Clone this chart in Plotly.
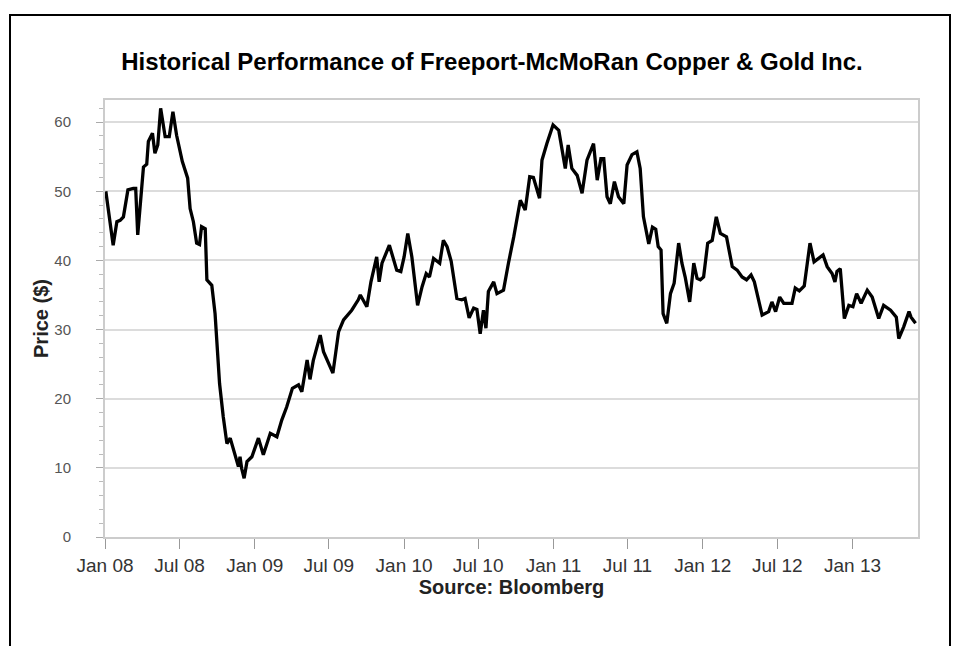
import plotly.graph_objects as go

dates = [
    "2008-01-03", "2008-01-21", "2008-01-30", "2008-02-07", "2008-02-15", "2008-02-26",
    "2008-03-10", "2008-03-16", "2008-03-21", "2008-04-04", "2008-04-12", "2008-04-16",
    "2008-04-26", "2008-05-02", "2008-05-09", "2008-05-16", "2008-05-27", "2008-06-06",
    "2008-06-15", "2008-06-24", "2008-07-08", "2008-07-21", "2008-07-27", "2008-08-04",
    "2008-08-12", "2008-08-19", "2008-08-24", "2008-09-02", "2008-09-06", "2008-09-18",
    "2008-09-26", "2008-09-30", "2008-10-07", "2008-10-16", "2008-10-25", "2008-11-02",
    "2008-11-08", "2008-11-16", "2008-11-22", "2008-11-26", "2008-11-30", "2008-12-06",
    "2008-12-13", "2008-12-25", "2009-01-10", "2009-01-22", "2009-02-08", "2009-02-24",
    "2009-03-08", "2009-03-20", "2009-04-03", "2009-04-18", "2009-04-26", "2009-05-09",
    "2009-05-16", "2009-05-24", "2009-06-02", "2009-06-10", "2009-06-18", "2009-06-30",
    "2009-07-11", "2009-07-25", "2009-08-06", "2009-08-26", "2009-09-11", "2009-09-16",
    "2009-10-02", "2009-10-12", "2009-10-26", "2009-11-01", "2009-11-08", "2009-11-26",
    "2009-12-14", "2009-12-24", "2010-01-01", "2010-01-10", "2010-01-20", "2010-02-03",
    "2010-02-14", "2010-02-24", "2010-03-04", "2010-03-14", "2010-03-29", "2010-04-07",
    "2010-04-16", "2010-04-26", "2010-05-10", "2010-05-22", "2010-05-30", "2010-06-09",
    "2010-06-20", "2010-06-28", "2010-07-06", "2010-07-14", "2010-07-20", "2010-07-26",
    "2010-08-08", "2010-08-16", "2010-09-01", "2010-09-13", "2010-09-26", "2010-10-12",
    "2010-10-24", "2010-11-04", "2010-11-13", "2010-11-28", "2010-12-04", "2010-12-16",
    "2010-12-31", "2011-01-14", "2011-01-22", "2011-01-30", "2011-02-06", "2011-02-15",
    "2011-02-28", "2011-03-12", "2011-03-24", "2011-04-09", "2011-04-18", "2011-04-27",
    "2011-05-04", "2011-05-12", "2011-05-20", "2011-05-30", "2011-06-09", "2011-06-22",
    "2011-06-30", "2011-07-12", "2011-07-24", "2011-08-01", "2011-08-09", "2011-08-22",
    "2011-08-31", "2011-09-08", "2011-09-14", "2011-09-21", "2011-09-26", "2011-10-05",
    "2011-10-14", "2011-10-23", "2011-11-03", "2011-11-11", "2011-11-19", "2011-11-30",
    "2011-12-10", "2011-12-18", "2011-12-26", "2012-01-03", "2012-01-13", "2012-01-24",
    "2012-02-03", "2012-02-13", "2012-02-28", "2012-03-13", "2012-03-25", "2012-04-06",
    "2012-04-17", "2012-04-28", "2012-05-06", "2012-05-17", "2012-05-25", "2012-06-10",
    "2012-06-18", "2012-06-27", "2012-07-07", "2012-07-17", "2012-08-06", "2012-08-14",
    "2012-08-24", "2012-09-05", "2012-09-19", "2012-09-29", "2012-10-10", "2012-10-21",
    "2012-10-31", "2012-11-12", "2012-11-19", "2012-11-24", "2012-12-02", "2012-12-12",
    "2012-12-23", "2013-01-02", "2013-01-11", "2013-01-22", "2013-02-06", "2013-02-18",
    "2013-03-06", "2013-03-18", "2013-04-04", "2013-04-18", "2013-04-24", "2013-05-06",
    "2013-05-19", "2013-05-24", "2013-06-04",
]

prices = [
    50.0, 42.2, 45.6, 45.8, 46.3, 50.2,
    50.4, 50.4, 43.7, 53.5, 53.9, 57.2,
    58.4, 55.5, 56.7, 62.0, 57.9, 57.9,
    61.5, 58.1, 54.3, 51.9, 47.5, 45.6,
    42.5, 42.3, 44.9, 44.6, 37.2, 36.4,
    32.3, 28.5, 22.2, 17.4, 13.5, 14.3,
    13.1, 11.6, 10.2, 11.6, 9.9, 8.5,
    10.9, 11.6, 14.3, 11.9, 15.0, 14.5,
    16.9, 18.8, 21.5, 22.0, 21.0, 25.6,
    22.8, 25.5, 27.5, 29.2, 26.8, 25.1,
    23.7, 29.7, 31.4, 32.8, 34.3, 35.0,
    33.3, 36.9, 40.5, 36.9, 39.6, 42.2,
    38.6, 38.4, 40.5, 43.9, 40.5, 33.5,
    36.2, 38.1, 37.6, 40.3, 39.6, 42.9,
    42.0, 39.9, 34.5, 34.3, 34.5, 31.7,
    33.1, 32.9, 29.4, 32.8, 30.2, 35.5,
    36.9, 35.2, 35.7, 39.6, 43.4, 48.7,
    47.3, 52.1, 52.0, 49.0, 54.5, 56.9,
    59.6, 58.8, 55.9, 53.3, 56.7, 53.3,
    52.3, 49.7, 54.5, 56.9, 51.6, 54.7,
    54.7, 49.2, 48.2, 51.4, 49.2, 48.2,
    53.8, 55.3, 55.7, 53.3, 46.3, 42.4,
    44.8, 44.5, 42.0, 41.5, 32.3, 30.9,
    35.2, 36.7, 42.5, 39.6, 37.6, 34.0,
    39.6, 37.4, 37.2, 37.6, 42.5, 42.9,
    46.3, 43.9, 43.4, 39.1, 38.6, 37.6,
    37.2, 37.9, 36.9, 34.3, 32.1, 32.6,
    34.0, 32.6, 34.7, 33.8, 33.8, 36.0,
    35.6, 36.3, 42.5, 39.8, 40.3, 40.8,
    39.1, 38.1, 36.9, 38.4, 38.8, 31.6,
    33.5, 33.3, 35.2, 33.8, 35.7, 34.7,
    31.6, 33.5, 32.8, 31.8, 28.7, 30.4,
    32.6, 31.8, 30.9,
]

tick_dates = ["2008-01-01", "2008-07-01", "2009-01-01", "2009-07-01", "2010-01-01",
              "2010-07-01", "2011-01-01", "2011-07-01", "2012-01-01", "2012-07-01",
              "2013-01-01"]
tick_labels = ["Jan 08", "Jul 08", "Jan 09", "Jul 09", "Jan 10", "Jul 10",
               "Jan 11", "Jul 11", "Jan 12", "Jul 12", "Jan 13"]
y_ticks = [0, 10, 20, 30, 40, 50, 60]

title_text = "Historical Performance of Freeport-McMoRan Copper & Gold Inc."
x_title = "Source: Bloomberg"
y_title = "Price ($)"

FONT = "Liberation Sans, Arial, sans-serif"

# the page body adds an 8px offset; figure coordinates = page coordinates - 8
OFF = 8
FW, FH = 962 - OFF, 646 - OFF

fig = go.Figure()
fig.add_trace(go.Scatter(
    x=dates, y=prices, mode="lines",
    line=dict(color="#000000", width=3.3),
    hoverinfo="x+y", showlegend=False,
))

# plot area in page pixels: x 105..918, y 100..537
PL, PR, PT, PB = 105 - OFF, 918 - OFF, 100 - OFF, 537 - OFF
L, R, T, B = PL, FW - PR, PT, FH - PB
W, H = PR - PL, PB - PT

def px(xp):
    return (xp - OFF - PL) / W

def py(yp):
    return (PB - (yp - OFF)) / H

fig.update_layout(
    width=FW, height=FH,
    margin=dict(l=L, r=R, t=T, b=B),
    paper_bgcolor="white", plot_bgcolor="white",
    font=dict(family=FONT, color="#333333"),
    title=dict(text="<b>" + title_text + "</b>", x=px(492), xref="paper", xanchor="center",
               y=1 - (62 - OFF) / FH, yref="container", yanchor="middle",
               font=dict(size=24, color="#000000", family=FONT)),
    xaxis=dict(
        type="date", range=["2008-01-01", "2013-06-10"],
        tickvals=tick_dates, ticktext=tick_labels,
        ticks="outside", ticklen=10, tickcolor="#999999", tickwidth=1,
        tickfont=dict(size=19, color="#333333", family=FONT),
        showgrid=False, zeroline=False,
        showline=True, linecolor="#cccccc", linewidth=2, mirror=True,
        title=dict(text="<b>" + x_title + "</b>", standoff=2,
                   font=dict(size=20, color="#222222", family=FONT)),
    ),
    yaxis=dict(
        range=[0, 63.2], tickvals=y_ticks,
        ticks="outside", ticklen=7, tickcolor="#aaaaaa", tickwidth=1,
        minor=dict(dtick=2, ticklen=4, tickcolor="#bbbbbb", ticks="outside", showgrid=False),
        tickfont=dict(size=15, color="#555555", family=FONT),
        ticklabelstandoff=22,
        showgrid=True, gridcolor="#dcdcdc", gridwidth=2,
        zeroline=False,
        showline=True, linecolor="#cccccc", linewidth=2, mirror=True,
        title=dict(text="<b>" + y_title + "</b>", standoff=0,
                   font=dict(size=20, color="#222222", family=FONT)),
    ),
    shapes=[dict(type="rect", xref="paper", yref="paper",
                 x0=px(10), x1=px(950), y0=py(700), y1=py(15),
                 line=dict(color="#000000", width=2), fillcolor="rgba(0,0,0,0)",
                 layer="above")],
)

fig.write_html("out.html")
